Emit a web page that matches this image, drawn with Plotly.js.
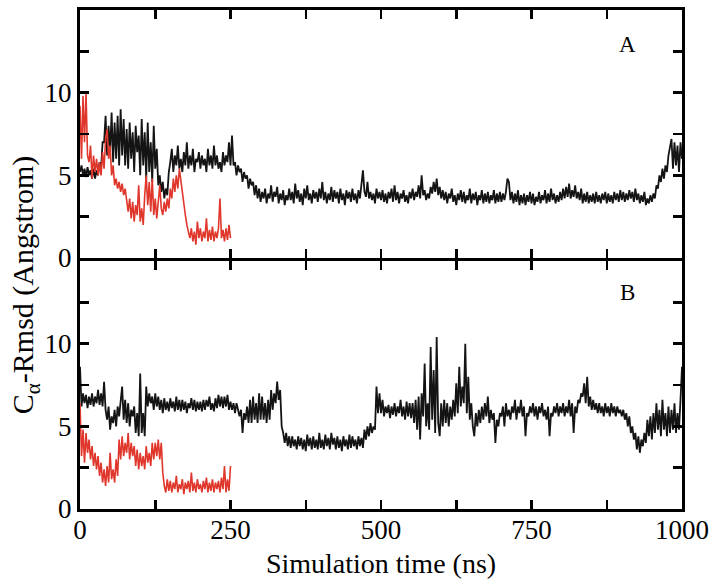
<!DOCTYPE html>
<html>
<head>
<meta charset="utf-8">
<script src="https://cdn.plot.ly/plotly-3.0.1.min.js"></script>
<style>
  html, body { margin: 0; padding: 0; background: #fff; }
  #chart { width: 716px; height: 581px; }
</style>
</head>
<body>
<div id="chart"></div>
<script>
// Panel A, black trace (0–1000 ns, sampled every 2.5 ns)
const blackA = [
  5.2,5.6,5.0,5.4,4.9,5.5,5.0,5.3,4.8,5.4,4.8,5.3,5.0,5.8,5.4,7.0,7.0,8.6,6.2,8.0,
  6.4,8.8,5.8,8.2,6.0,8.6,5.6,9.0,6.2,8.4,5.6,7.8,5.4,8.2,6.0,7.6,5.2,8.0,6.4,7.4,
  5.0,8.4,5.6,7.6,4.8,8.2,5.2,7.0,4.6,8.0,5.4,6.6,4.4,5.0,4.0,4.6,3.6,4.2,3.8,5.2,
  5.8,6.6,5.2,6.2,5.6,6.8,5.4,6.0,5.2,6.4,5.6,7.0,5.4,6.2,5.6,6.6,5.2,6.0,5.8,6.4,
  5.4,6.2,5.6,6.0,5.2,6.6,5.6,6.2,5.4,6.8,5.6,6.2,5.4,5.8,5.2,6.4,5.6,6.2,5.8,7.0,
  5.6,7.4,5.6,5.8,5.0,5.6,5.2,5.4,4.6,5.2,4.8,5.0,4.2,4.8,4.4,4.6,3.8,4.4,3.6,4.2,
  3.4,4.0,3.6,4.2,3.3,3.9,3.6,4.4,3.4,4.0,3.7,4.3,3.3,3.9,3.5,4.1,3.2,3.8,3.5,4.2,
  3.5,4.0,3.3,4.5,3.6,4.1,3.4,3.9,3.2,4.2,3.6,4.4,3.5,3.9,3.3,4.1,3.6,4.0,3.4,4.2,
  3.6,4.6,3.5,4.0,3.3,3.9,3.5,4.3,3.4,4.1,3.6,4.0,3.3,4.2,3.5,3.9,3.2,4.1,3.6,4.0,
  3.4,4.2,3.5,3.9,3.3,4.1,3.6,4.4,5.3,4.0,3.7,4.6,3.6,4.0,3.5,3.9,3.3,4.2,3.6,4.0,
  3.5,4.1,3.4,3.9,3.3,4.0,3.6,4.2,3.4,4.4,3.5,4.0,3.3,3.9,3.6,4.1,3.4,3.8,3.3,4.0,
  3.6,4.2,3.5,4.0,3.7,4.4,3.6,5.0,3.8,4.1,3.5,3.9,3.6,4.3,3.9,4.6,4.0,4.8,3.8,4.3,
  3.6,4.1,3.5,4.0,3.3,3.9,3.6,4.2,3.4,3.8,3.2,3.9,3.5,4.1,3.4,4.0,3.3,3.8,3.5,4.2,
  3.3,3.9,3.5,4.0,3.2,3.8,3.5,4.1,3.3,3.9,3.4,4.0,3.3,3.8,3.5,4.1,3.3,3.9,3.4,4.0,
  3.4,3.9,3.5,4.0,4.8,4.6,3.5,4.0,3.3,3.9,3.4,4.1,3.2,3.8,3.3,3.9,3.2,3.8,3.4,4.0,
  3.3,3.9,3.2,3.7,3.4,4.0,3.3,3.8,3.5,4.1,3.3,3.9,3.4,4.2,3.5,3.9,3.3,3.8,3.4,4.0,
  3.5,4.2,3.6,4.3,3.7,4.5,3.6,4.1,3.7,4.4,3.6,4.0,3.5,4.2,3.3,3.9,3.4,4.0,3.3,3.8,
  3.4,3.9,3.3,4.0,3.4,3.8,3.3,3.9,3.5,4.0,3.3,3.9,3.4,3.8,3.3,4.0,3.5,3.9,3.4,4.1,
  3.5,4.0,3.4,3.9,3.5,4.1,3.6,4.0,3.4,4.2,3.5,3.9,3.3,3.8,3.4,4.0,3.2,3.6,3.3,3.8,
  3.4,3.9,3.6,4.4,4.2,5.0,4.6,5.4,4.8,5.6,5.2,6.2,6.6,7.2,5.4,7.0,5.6,6.8,5.2,7.0,
  6.0
];
// Panel A, red trace (0–250 ns, sampled every 2.5 ns)
const redA = [
  9.2,6.0,9.8,7.0,10.0,6.2,5.8,6.8,4.8,6.2,5.2,6.0,5.0,5.8,5.0,6.4,5.4,7.2,7.8,6.0,
  6.8,5.0,5.6,4.4,4.8,4.2,4.6,4.0,4.5,3.8,4.2,3.6,2.8,3.6,2.4,3.4,2.2,3.2,2.6,4.4,
  2.2,3.0,2.0,3.8,5.0,3.2,4.6,2.8,4.8,2.6,3.6,2.4,3.2,4.4,3.0,2.6,3.4,2.8,3.6,3.0,
  4.2,3.6,4.8,4.0,5.0,4.2,5.4,4.6,4.0,3.2,2.6,2.0,1.6,1.2,1.8,1.0,1.6,0.8,2.2,1.2,
  1.8,1.0,1.6,1.2,2.4,1.0,1.7,1.1,1.9,1.0,1.6,1.2,1.8,3.6,1.2,1.7,1.0,1.8,1.1,2.0,
  1.2
];
// Panel B, black trace (0–1000 ns, sampled every 2.5 ns)
const blackB = [
  8.6,6.2,7.0,6.4,6.9,6.1,6.8,6.3,7.0,6.2,6.8,6.4,7.2,6.3,7.0,6.2,7.7,6.0,5.4,6.2,
  4.8,5.6,5.2,6.0,5.0,6.2,5.6,6.4,7.4,5.4,6.6,5.2,6.4,5.0,6.0,5.6,6.2,4.6,5.8,4.4,
  8.2,4.6,5.8,4.4,7.4,6.2,7.0,6.4,6.8,6.0,7.0,6.2,6.8,6.0,6.6,5.8,6.7,6.0,6.5,5.9,
  6.7,6.1,6.5,5.9,6.8,6.0,6.6,5.9,6.6,6.0,6.5,5.8,6.4,6.1,6.7,6.0,6.6,5.9,6.5,6.0,
  6.5,5.9,6.6,6.0,6.6,6.2,6.8,6.0,6.4,5.9,6.7,6.1,6.9,6.2,6.8,6.1,6.8,6.2,6.9,6.0,
  6.5,6.0,6.4,5.8,6.4,6.0,5.6,6.0,4.6,5.8,5.4,6.2,5.2,6.6,5.2,6.8,5.4,6.4,5.2,7.0,
  5.4,6.8,5.4,6.4,5.2,6.6,5.4,7.2,6.0,7.0,6.4,7.7,6.6,7.2,5.0,4.6,4.0,4.6,3.8,4.4,
  3.7,4.4,3.8,4.2,3.6,4.4,3.8,4.3,3.6,4.2,3.5,4.5,3.8,4.3,3.6,4.4,3.7,4.2,3.6,4.6,
  3.7,4.2,3.6,4.5,3.8,4.3,3.6,4.6,3.9,4.3,3.6,4.4,3.7,4.2,3.5,4.4,3.8,4.2,3.6,4.5,
  3.7,4.4,3.8,4.2,3.6,4.4,3.8,4.3,3.7,4.8,4.2,5.0,4.4,5.2,4.6,5.0,4.8,7.4,5.8,7.0,
  5.8,6.6,5.6,6.2,5.8,6.3,5.5,6.2,5.7,6.4,5.6,6.2,5.8,6.6,5.6,6.2,5.4,6.5,5.6,6.4,
  5.5,6.4,5.2,6.6,4.8,6.8,4.2,7.0,5.6,8.8,5.0,6.4,4.8,9.8,5.4,8.4,4.6,10.4,5.2,4.4,
  6.4,5.0,6.6,5.2,6.4,5.0,6.2,5.4,6.6,5.6,7.6,5.8,8.6,6.2,7.4,6.4,10.0,5.8,8.0,5.4,
  6.4,5.0,4.4,5.8,5.0,6.0,5.2,6.2,5.4,6.4,5.6,6.8,5.2,6.0,5.4,5.8,4.0,5.4,5.0,5.8,
  5.6,6.2,5.0,6.4,5.6,6.0,5.4,6.2,5.8,6.6,5.4,6.2,5.8,6.6,5.6,6.2,4.4,5.8,5.6,6.2,
  5.8,6.4,5.6,6.2,5.4,6.2,5.8,6.4,5.6,6.0,5.4,6.2,4.4,5.8,5.6,6.2,5.8,6.4,5.6,6.2,
  5.8,6.4,5.6,6.2,5.8,6.6,5.6,6.4,4.6,6.2,5.8,6.6,6.4,7.0,6.8,7.6,6.4,8.0,6.2,6.8,
  6.0,6.6,6.0,6.4,5.8,6.4,5.8,6.2,5.6,6.4,5.8,6.2,5.6,6.4,5.8,6.2,5.6,6.2,5.8,6.0,
  5.6,6.0,5.4,5.8,5.0,5.6,4.6,5.0,4.2,4.6,3.6,4.4,3.4,4.2,3.8,4.6,4.0,5.4,4.4,5.6,
  4.2,5.8,4.6,6.4,4.8,6.0,4.4,6.6,4.8,5.8,4.4,6.2,4.6,6.0,4.8,6.4,4.6,5.8,4.8,6.6,
  8.6
];
// Panel B, red trace (0–250 ns, sampled every 2.5 ns)
const redB = [
  6.4,3.2,4.8,2.8,4.6,3.4,4.2,3.0,3.8,2.6,3.4,2.4,3.2,2.0,2.8,1.6,2.4,1.4,2.6,1.6,
  3.4,1.8,2.4,1.6,3.0,2.0,4.2,3.0,4.4,3.2,4.0,3.4,4.6,3.0,4.0,3.2,3.8,2.6,3.6,2.4,
  3.4,2.6,3.2,2.4,3.8,2.8,3.4,2.6,4.0,3.0,4.0,3.2,4.2,3.0,4.0,2.2,1.4,1.0,1.8,1.1,
  1.7,1.0,1.6,1.2,2.0,1.0,1.5,1.2,1.8,0.9,1.6,1.2,1.7,1.0,2.2,1.1,1.6,1.0,1.8,1.2,
  1.5,1.0,1.7,1.2,1.9,1.0,1.6,1.1,1.8,1.0,1.6,1.2,1.7,1.0,1.9,1.2,2.6,1.0,1.8,1.1,
  2.6
];
const blackEnd = 1000;   // ns
const redEnd = 250;      // ns
const xMajorTicks = [0,250,500,750,1000];
const xMinorTicks = [125,375,625,875];
const yMajorTicks = [0,5,10];
const yMinorTicks = [2.5,7.5,12.5];

function times(arr, end) {
  return arr.map((_, i) => i * end / (arr.length - 1));
}

const BLACK = '#141414';
const RED = '#e0372c';
const FONT = '"Liberation Serif", "DejaVu Serif", serif';

const traces = [
  {x: times(blackA, blackEnd), y: blackA, xaxis: 'x2', yaxis: 'y2', type: 'scatter', mode: 'lines',
   line: {color: BLACK, width: 1.8}, hoverinfo: 'skip'},
  {x: times(redA, redEnd), y: redA, xaxis: 'x2', yaxis: 'y2', type: 'scatter', mode: 'lines',
   line: {color: RED, width: 1.6}, hoverinfo: 'skip'},
  {x: times(blackB, blackEnd), y: blackB, xaxis: 'x', yaxis: 'y', type: 'scatter', mode: 'lines',
   line: {color: BLACK, width: 1.8}, hoverinfo: 'skip'},
  {x: times(redB, redEnd), y: redB, xaxis: 'x', yaxis: 'y', type: 'scatter', mode: 'lines',
   line: {color: RED, width: 1.6}, hoverinfo: 'skip'}
];

const minorStyle = {ticks: 'inside', ticklen: 9, tickwidth: 2.5, tickcolor: '#000', showgrid: false};

const axisCommon = {
  showline: true, linecolor: '#000', linewidth: 3, mirror: 'ticks',
  ticks: 'inside', ticklen: 9, tickwidth: 2.5, tickcolor: '#000',
  showgrid: false, zeroline: false, fixedrange: true,
  tickfont: {family: FONT, size: 27, color: '#000'}
};

const layout = {
  width: 716, height: 581,
  margin: {l: 80, r: 34, t: 10, b: 72},
  paper_bgcolor: '#fff', plot_bgcolor: '#fff',
  showlegend: false,
  font: {family: FONT, color: '#000'},
  xaxis: Object.assign({}, axisCommon, {
    range: [0, 1000], anchor: 'y', domain: [0, 1],
    tickmode: 'array', tickvals: xMajorTicks,
    minor: Object.assign({tickmode: 'array', tickvals: xMinorTicks}, minorStyle),
    ticklabelstandoff: -5,
    title: {text: 'Simulation time (ns)', font: {family: FONT, size: 28, color: '#000'}, standoff: 9}
  }),
  xaxis2: Object.assign({}, axisCommon, {
    range: [0, 1000], anchor: 'y2', domain: [0, 1], matches: 'x',
    tickmode: 'array', tickvals: xMajorTicks,
    minor: Object.assign({tickmode: 'array', tickvals: xMinorTicks}, minorStyle),
    showticklabels: false
  }),
  yaxis: Object.assign({}, axisCommon, {
    range: [0, 15], domain: [0, 0.497], anchor: 'x',
    tickmode: 'array', tickvals: yMajorTicks,
    minor: Object.assign({tickmode: 'array', tickvals: yMinorTicks}, minorStyle),
    ticklabelstandoff: 0
  }),
  yaxis2: Object.assign({}, axisCommon, {
    range: [0, 15], domain: [0.503, 1], anchor: 'x2',
    tickmode: 'array', tickvals: yMajorTicks,
    minor: Object.assign({tickmode: 'array', tickvals: yMinorTicks}, minorStyle),
    ticklabelstandoff: 0
  }),
  annotations: [
    {text: 'C<sub>α</sub>-Rmsd (Angstrom)', xref: 'paper', yref: 'paper',
     x: -0.091, y: 0.449, textangle: -90, showarrow: false,
     xanchor: 'center', yanchor: 'middle',
     font: {family: FONT, size: 30, color: '#000'}},
    {text: 'A', xref: 'paper', yref: 'paper', x: 0.909, y: 0.93, showarrow: false,
     xanchor: 'center', yanchor: 'middle', font: {family: FONT, size: 23, color: '#000'}},
    {text: 'B', xref: 'paper', yref: 'paper', x: 0.909, y: 0.433, showarrow: false,
     xanchor: 'center', yanchor: 'middle', font: {family: FONT, size: 23, color: '#000'}}
  ]
};

Plotly.newPlot('chart', traces, layout, {staticPlot: true, displayModeBar: false});
</script>
</body>
</html>
